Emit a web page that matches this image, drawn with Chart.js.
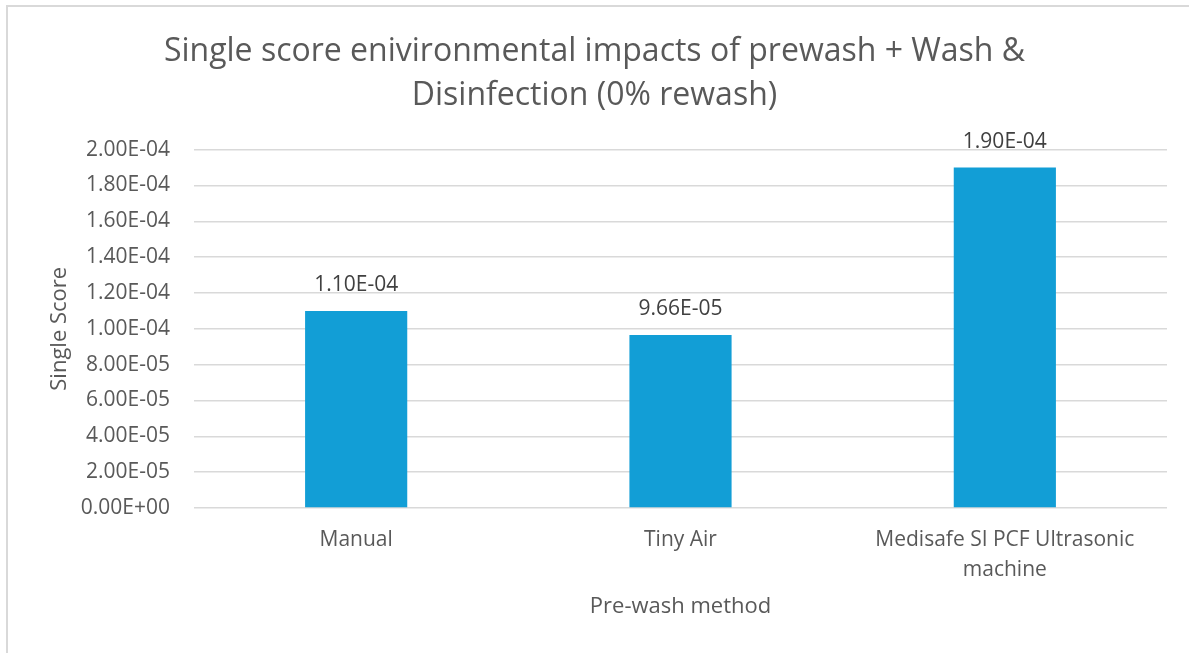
<!DOCTYPE html>
<html>
<head>
<meta charset="utf-8">
<script src="https://cdn.jsdelivr.net/npm/chart.js@4"></script>
<style>
  body { margin: 0; background: #fff; overflow: hidden; }
  #frame { position: absolute; left: 6px; top: 5px; width: 1300px; height: 800px;
           border-left: 2px solid #d9d9d9; border-top: 2px solid #d9d9d9; }
  #chart { position: absolute; left: 0; top: 0; }
</style>
</head>
<body>
<div id="frame"></div>
<canvas id="chart" width="1189" height="653"></canvas>
<script>
// Datos del gráfico
const methods = ['Manual', 'Tiny Air', ['Medisafe SI PCF Ultrasonic', 'machine']];
const singleScores = [1.10e-4, 9.66e-5, 1.90e-4];
const yMin = 0;
const yMax = 2.0e-4;
const yStep = 2.0e-5;

const textColor = '#595959';
const fontFamily = '"Open Sans", sans-serif';

// Formato tipo Excel: 1.10E-04
function sci(v) {
    const parts = Number(v).toExponential(2).split('e');
    const exp = parts[1];
    return parts[0] + 'E' + exp[0] + exp.slice(1).padStart(2, '0');
}

// Etiquetas de valor encima de las barras
const valueLabels = {
    id: 'valueLabels',
    afterDatasetsDraw(chart) {
        const ctx = chart.ctx;
        const meta = chart.getDatasetMeta(0);
        ctx.save();
        ctx.font = '21px ' + fontFamily;
        ctx.fillStyle = '#404040';
        ctx.textAlign = 'center';
        ctx.textBaseline = 'middle';
        meta.data.forEach((bar, i) => {
            ctx.fillText(sci(chart.data.datasets[0].data[i]), bar.x, bar.y - 26);
        });
        ctx.restore();
    }
};

const ctx = document.getElementById('chart').getContext('2d');
new Chart(ctx, {
    type: 'bar',
    data: {
        labels: methods,
        datasets: [{
            data: singleScores,
            backgroundColor: '#129ed6',
            borderWidth: 0,
            barPercentage: 1,
            categoryPercentage: 0.315
        }]
    },
    options: {
        responsive: false,
        animation: false,
        layout: { padding: 0 },
        plugins: {
            legend: { display: false },
            tooltip: { enabled: false },
            title: {
                display: true,
                text: ['Single score enivironmental impacts of prewash + Wash &', 'Disinfection (0% rewash)'],
                color: textColor,
                font: { family: fontFamily, size: 32, weight: 'normal', lineHeight: 1.4 },
                padding: { top: 29, bottom: 31 }
            }
        },
        scales: {
            x: {
                grid: { display: false, drawTicks: false },
                border: { display: false },
                ticks: {
                    color: textColor,
                    font: { family: fontFamily, size: 21, lineHeight: 1.43 },
                    padding: 17,
                    maxRotation: 0,
                    autoSkip: false
                },
                title: {
                    display: true,
                    text: 'Pre-wash method',
                    color: textColor,
                    font: { family: fontFamily, size: 22, lineHeight: 1.2 },
                    padding: { top: 10, bottom: 33 }
                },
                afterFit(scale) { scale.height = 145; }
            },
            y: {
                min: yMin,
                max: yMax,
                grid: { color: '#d9d9d9', lineWidth: 1.5, drawTicks: false },
                border: { display: false },
                ticks: {
                    stepSize: yStep,
                    color: textColor,
                    font: { family: fontFamily, size: 21 },
                    padding: 24,
                    callback: v => sci(v)
                },
                title: {
                    display: true,
                    text: 'Single Score',
                    color: textColor,
                    font: { family: fontFamily, size: 22, lineHeight: 1.2 },
                    padding: { top: 47, bottom: 10 }
                },
                afterFit(scale) { scale.width = 194; }
            },
            // margen derecho vacío (deja el título centrado en el lienzo)
            yRight: {
                position: 'right',
                grid: { display: false, drawTicks: false },
                border: { display: false },
                ticks: { display: false },
                afterFit(scale) { scale.width = 22; }
            }
        }
    },
    plugins: [valueLabels]
});
</script>
</body>
</html>
